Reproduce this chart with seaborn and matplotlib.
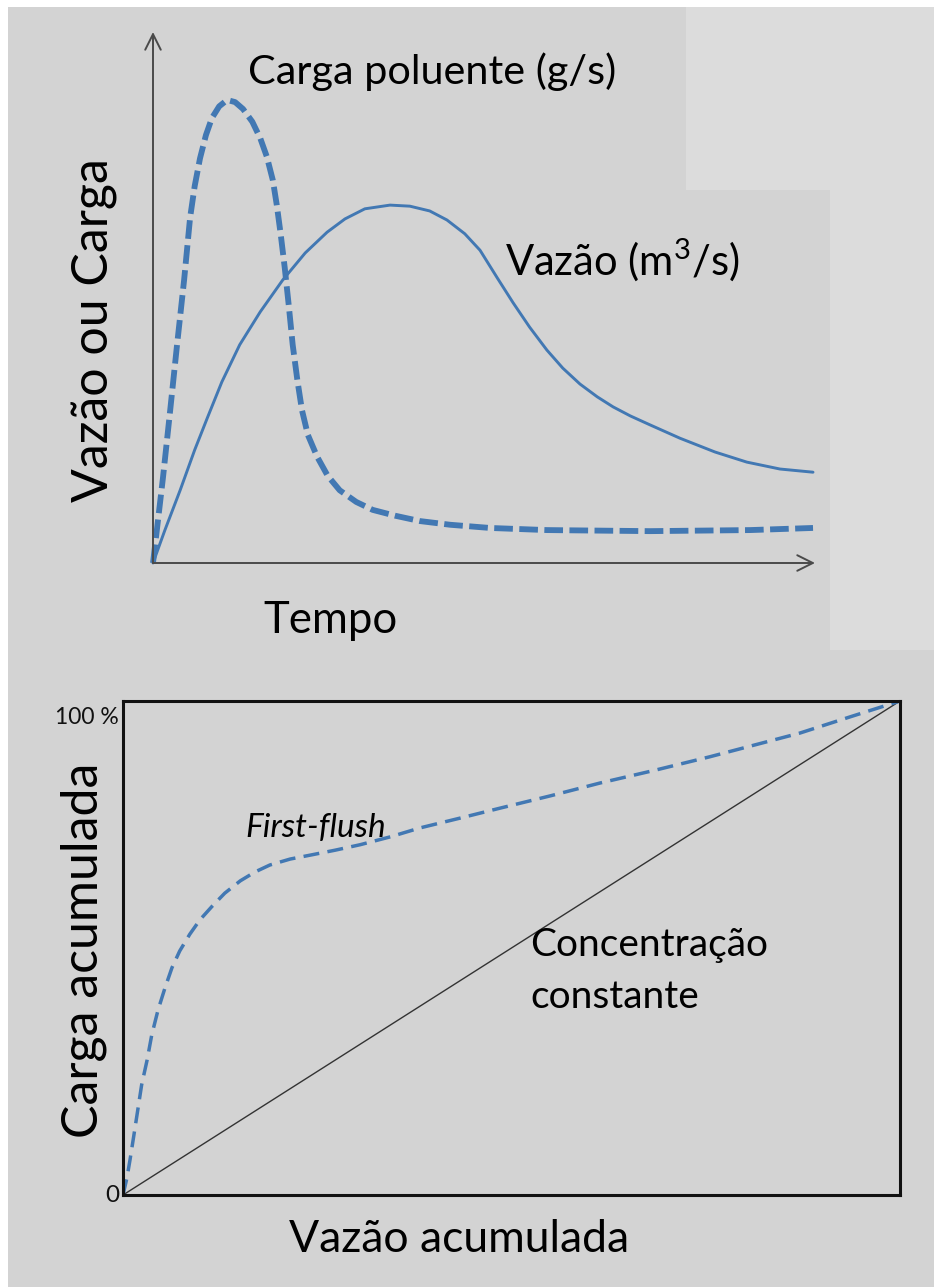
import matplotlib
matplotlib.use("Agg")
import matplotlib.pyplot as plt
from matplotlib.patches import Rectangle
import pandas as pd
import seaborn as sns

# Hydrograph / pollutograph (time in % of event, values in % of plot height)
tempo_carga = [0, 1.5, 2.6, 3.6, 4.7, 5.6, 6.3, 7.1, 8.0, 8.9, 10.0, 11.2, 12.4,
               13.6, 15.0, 16.2, 17.2, 18.1, 18.7, 19.3, 19.9, 20.5, 21.1, 21.8,
               22.5, 23.4, 24.8, 26.4, 28.2, 30.7, 33.2, 36.6, 40.3, 44.9, 50.9,
               59.5, 75.1, 90.2, 99.7]
carga = [0, 16.0, 28.8, 40.7, 53.3, 65.0, 71.0, 76.2, 80.6, 83.8, 86.0, 87.2, 86.8,
         85.5, 83.1, 80.0, 76.5, 72.1, 67.4, 61.8, 55.6, 48.6, 41.1, 34.5,
         28.8, 24.1, 20.0, 16.4, 13.7, 11.5, 10.0, 8.9, 7.9, 7.2, 6.6,
         6.2, 6.0, 6.2, 6.6]

tempo_vazao = [0, 1.8, 4.1, 6.3, 8.2, 10.4, 13.1, 16.2, 19.6, 23.0, 26.3, 29.0,
               32.0, 35.8, 38.8, 41.8, 44.4, 47.1, 49.4, 52.0, 54.4, 56.9, 59.5,
               61.9, 64.5, 67.1, 69.5, 72.1, 75.1, 79.6, 84.9, 89.7, 94.7, 99.7]
vazao = [0, 6.2, 13.7, 21.3, 27.3, 34.1, 41.1, 47.3, 53.3, 58.4, 62.3, 64.8,
         66.7, 67.4, 67.2, 66.3, 64.6, 62.0, 58.9, 53.7, 49.0, 44.4, 40.1,
         36.7, 33.7, 31.3, 29.4, 27.7, 26.0, 23.5, 20.9, 19.0, 17.7, 17.1]

# Cumulative load vs cumulative flow (M(V) curve)
vazao_acum = [0, 0.5, 0.9, 1.4, 1.9, 2.4, 3.1, 3.7, 4.5, 5.4, 6.3, 7.3, 8.6, 9.9,
              11.5, 13.1, 15.1, 17.0, 18.9, 21.5, 24.1, 27.3, 30.5, 34.4, 38.2,
              43.4, 48.5, 55.0, 61.4, 68.5, 75.5, 81.3, 87.1, 93.6, 100]
carga_acum = [0, 3.4, 7.1, 12.1, 17.2, 22.3, 27.3, 32.4, 37.4, 41.9, 46.0, 49.4,
              52.8, 55.7, 58.5, 61.1, 63.6, 65.4, 66.8, 68.0, 68.8, 69.8, 70.9,
              72.5, 74.3, 76.3, 78.3, 80.8, 83.4, 86.0, 88.7, 91.1, 93.5, 96.8, 100]
linha_ref = [0, 100]

W, H = 934, 1287
BG = "#d3d3d3"
BLUE = "#4278b3"

sns.set_theme(style="white")
plt.rcParams["font.family"] = ["Lato", "DejaVu Sans"]
plt.rcParams["mathtext.fontset"] = "custom"
plt.rcParams["mathtext.rm"] = "Lato"
plt.rcParams["mathtext.it"] = "Lato:italic"

fig = plt.figure(figsize=(W / 100, H / 100), dpi=100, facecolor=BG)


def fx(x):
    return x / W


def fy(y):
    return 1 - y / H


# page background pieces
for (x0, y0, x1, y1, c) in [(0, 0, 8, H, "white"), (0, 0, W, 7, "white"),
                            (686, 7, W, 190, "#dcdcdc"), (830, 190, W, 650, "#dcdcdc")]:
    fig.patches.append(Rectangle((fx(x0), fy(y1)), fx(x1) - fx(x0), fy(y0) - fy(y1),
                                 transform=fig.transFigure, color=c, zorder=0, lw=0))

# ---- top panel ----
ax1 = fig.add_axes([fx(153), fy(563), fx(815) - fx(153), fy(32) - fy(563)])
ax1.set_facecolor("none")
df_c = pd.DataFrame({"t": tempo_carga, "v": carga})
df_q = pd.DataFrame({"t": tempo_vazao, "v": vazao})
sns.lineplot(data=df_q, x="t", y="v", ax=ax1, color=BLUE, lw=2.1, sort=False)
sns.lineplot(data=df_c, x="t", y="v", ax=ax1, color=BLUE, lw=4.2, sort=False)
ax1.lines[-1].set_dashes((3.2, 1.1))
for ln in ax1.lines:
    ln.set_clip_on(False)
    ln.set_solid_joinstyle("round")
    ln.set_dash_joinstyle("round")
ax1.set_xlim(0, 100)
ax1.set_ylim(0, 100)
ax1.set_axis_off()
arrow_kw = dict(arrowstyle="->", color="#4a4a4a", lw=1.4, mutation_scale=28,
                shrinkA=0, shrinkB=0)
ax1.annotate("", xy=(1, 0), xytext=(0, 0), xycoords="axes fraction",
             arrowprops=arrow_kw)
ax1.annotate("", xy=(0, 1), xytext=(0, 0), xycoords="axes fraction",
             arrowprops=arrow_kw)

fig.text(fx(248), fy(72), "Carga poluente (g/s)", fontsize=29.8, ha="left",
         va="center", color="black")
fig.text(fx(505), fy(260), "Vazão (m$^3$/s)", fontsize=30, ha="left", va="center",
         color="black")
fig.text(fx(95), fy(330), "Vazão ou Carga", fontsize=36, rotation=90, ha="center",
         va="center", color="black")
fig.text(fx(330), fy(620), "Tempo", fontsize=31.5, ha="center", va="center",
         color="black")

# ---- bottom panel ----
ax2 = fig.add_axes([fx(123), fy(1195), fx(900) - fx(123), fy(701) - fy(1195)])
ax2.set_facecolor("none")
df_r = pd.DataFrame({"x": linha_ref, "y": linha_ref})
df_m = pd.DataFrame({"x": vazao_acum, "y": carga_acum})
sns.lineplot(data=df_r, x="x", y="y", ax=ax2, color="#333333", lw=1.0)
sns.lineplot(data=df_m, x="x", y="y", ax=ax2, color=BLUE, lw=2.5, sort=False)
ax2.lines[-1].set_dashes((4.6, 2.4))
ax2.set_xlim(0, 100)
ax2.set_ylim(0, 100)
ax2.set_xticks([])
ax2.set_yticks([])
ax2.set_xlabel("")
ax2.set_ylabel("")
for sp in ax2.spines.values():
    sp.set_visible(True)
    sp.set_color("#111111")
    sp.set_linewidth(2.2)

fig.text(fx(119), fy(717), "100 %", fontsize=16.5, ha="right", va="center",
         color="#111111")
fig.text(fx(119), fy(1195), "0", fontsize=17.5, ha="right", va="center",
         color="#111111")
fig.text(fx(84), fy(950), "Carga acumulada", fontsize=36, rotation=90,
         ha="center", va="center", color="black")
fig.text(fx(459), fy(1240), "Vazão acumulada", fontsize=32, ha="center",
         va="center", color="black")
fig.text(fx(245), fy(828), "First-flush", fontsize=24, style="italic", ha="left",
         va="center", color="black")
fig.text(fx(530), fy(945), "Concentração", fontsize=28, ha="left", va="center",
         color="black")
fig.text(fx(530), fy(997), "constante", fontsize=28, ha="left", va="center",
         color="black")

fig.savefig("out.png", dpi=100, facecolor=BG)
